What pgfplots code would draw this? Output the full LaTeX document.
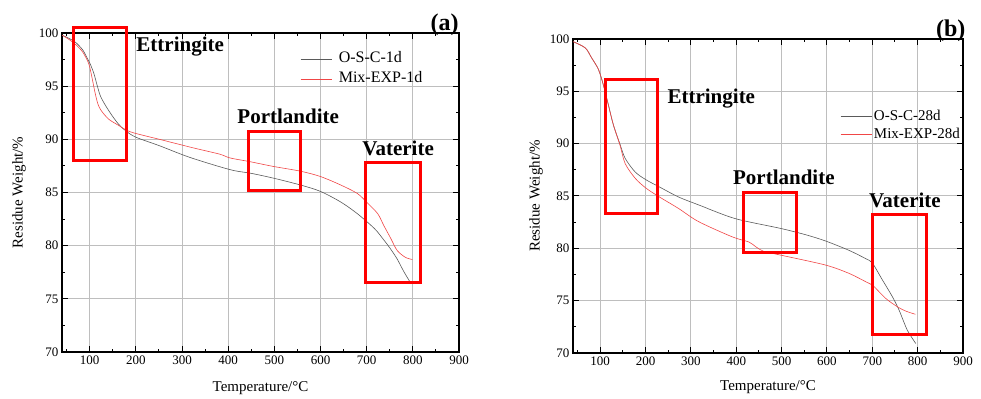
\documentclass[border=0pt]{standalone}
\usepackage{fontspec}
\setmainfont{Liberation Serif}
\usepackage{pgfplots}
\pgfplotsset{compat=1.18}
\definecolor{mixred}{RGB}{240,70,70}
\definecolor{oscgray}{RGB}{90,90,90}
\definecolor{gridgray}{RGB}{190,190,190}
\tikzset{
  lab/.style={font=\fontsize{21}{24}\bfseries\selectfont, anchor=base, inner sep=0pt},
  pan/.style={font=\fontsize{24}{28}\bfseries\selectfont, anchor=base, inner sep=0pt},
  box/.style={draw=red, line width=3pt},
  tk/.style={draw=black, line width=1pt},
  gl/.style={draw=gridgray, line width=1pt},
}
\newcommand{\tgagrid}{%
  \pgfplotsinvokeforeach{100,200,...,800}{\draw[gl] (axis cs:##1,70) -- (axis cs:##1,100);}%
  \pgfplotsinvokeforeach{75,80,...,95}{\draw[gl] (axis cs:40,##1) -- (axis cs:900,##1);}%
}
\newcommand{\tgaticks}{%
  \pgfplotsinvokeforeach{100,200,...,800}{\draw[tk] (axis cs:##1,70) -- ++(0pt,6pt); \draw[tk] (axis cs:##1,100) -- ++(0pt,-6pt);}%
  \pgfplotsinvokeforeach{50,150,...,850}{\draw[tk] (axis cs:##1,70) -- ++(0pt,3pt); \draw[tk] (axis cs:##1,100) -- ++(0pt,-3pt);}%
  \pgfplotsinvokeforeach{75,80,...,95}{\draw[tk] (axis cs:40,##1) -- ++(6pt,0pt); \draw[tk] (axis cs:900,##1) -- ++(-6pt,0pt);}%
  \pgfplotsinvokeforeach{72.5,77.5,82.5,87.5,92.5,97.5}{\draw[tk] (axis cs:40,##1) -- ++(3pt,0pt); \draw[tk] (axis cs:900,##1) -- ++(-3pt,0pt);}%
}
\pgfplotsset{
  tgastyle/.style={
    scale only axis,
    anchor=south west,
    xmin=40, xmax=900, ymin=70, ymax=100,
    xtick={100,200,300,400,500,600,700,800,900},
    ytick={70,75,80,85,90,95,100},
    tick align=inside,
    major tick length=0pt,
    axis line style={line width=1.2pt},
    /pgf/number format/assume math mode=true,
    tick label style={font=\fontsize{13}{15}\selectfont},
    label style={font=\fontsize{15}{17}\selectfont},
    xlabel={Temperature/°C},
    ylabel={Residue Weight/\%},
    legend cell align=left,
  },
}
\begin{document}
\begin{tikzpicture}
\path (0,0) rectangle (981pt,396pt);
% ---------------- panel (a)
\begin{axis}[tgastyle,
  at={(62pt,44pt)}, width=397pt, height=319pt,
  xlabel style={at={(axis description cs:0.5,-0.125)}, anchor=base},
  ylabel style={at={(axis description cs:-0.108,0.5)}, anchor=center},
  legend image code/.code={\draw[#1] (0pt,0pt) -- (31pt,0pt); \path (36pt,0pt);},
  legend style={at={(0.5995,0.951)}, anchor=north west, draw=none, fill=none,
    inner sep=0pt,
    font=\fontsize{16}{18}\selectfont,
    nodes={inner sep=2pt, text height=12pt, text depth=4pt}},
]
\tgagrid
\addplot[draw=oscgray, line width=0.6pt, smooth] coordinates {
(40,99.8) (55,99.5) (70,99.1) (85,98.4) (95,97.6) (101,97.1) (109,96.2)
(116,95.1) (123,94.1) (134,93.2) (149,92.2) (163,91.4) (178,90.8) (200,90.2)
(251,89.4) (317,88.3) (404,87.15) (450,86.8) (498,86.35) (557,85.7) (600,85.1)
(644,84.1) (680,83.0) (717,81.6) (736,80.6) (750,79.8) (766,78.75) (780,77.6) (795,76.5)
};
\addlegendentry{O-S-C-1d}
\addplot[draw=mixred, line width=0.6pt, smooth] coordinates {
(40,99.8) (55,99.4) (70,98.9) (85,98.2) (98,97.1) (105,95.8) (112,94.3)
(118,93.3) (125,92.7) (141,91.9) (163,91.3) (180,90.85) (200,90.55) (251,90.0)
(324,89.2) (382,88.6) (404,88.25) (447,87.9) (498,87.45) (557,87.0) (600,86.5)
(644,85.7) (680,84.9) (702,84.0) (724,83.0) (737,81.9) (752,80.7) (766,79.55)
(784,78.9) (799,78.7)
};
\addlegendentry{Mix-EXP-1d}
\tgaticks
\coordinate (a1) at (axis cs:65,88.0);   \coordinate (a2) at (axis cs:179.5,100.5);
\coordinate (a3) at (axis cs:443,85.2);  \coordinate (a4) at (axis cs:557,90.77);
\coordinate (a5) at (axis cs:697,76.5);  \coordinate (a6) at (axis cs:815.7,87.85);
\coordinate (aL1) at (axis cs:296,98.23);
\coordinate (aL2) at (axis cs:530,91.48);
\coordinate (aL3) at (axis cs:768,88.5);
\coordinate (aP) at (axis cs:869,100.2);
\end{axis}
\draw[box] (a1) rectangle (a2);
\draw[box] (a3) rectangle (a4);
\draw[box] (a5) rectangle (a6);
\node[lab] at (aL1) {Ettringite};
\node[lab] at (aL2) {Portlandite};
\node[lab] at (aL3) {Vaterite};
\node[pan] at (aP) {(a)};
% ---------------- panel (b)
\begin{axis}[tgastyle,
  at={(573pt,43pt)}, width=390pt, height=314pt,
  xlabel style={at={(axis description cs:0.5,-0.121)}, anchor=base},
  ylabel style={at={(axis description cs:-0.095,0.5)}, anchor=center},
  legend image code/.code={\draw[#1] (0pt,0pt) -- (31pt,0pt);},
  legend style={at={(0.685,0.783)}, anchor=north west, draw=none, fill=none,
    inner sep=0pt,
    font=\fontsize{15}{17}\selectfont,
    nodes={inner sep=2pt, text height=11pt, text depth=3pt}},
]
\tgagrid
\addplot[draw=oscgray, line width=0.6pt, smooth] coordinates {
(40,99.75) (67,99.15) (81,98.2) (96,97.1) (107,95.6) (118,93.7) (129,91.8)
(144,89.9) (155,88.6) (177,87.3) (201,86.55) (229,85.9) (273,84.9) (317,84.15)
(397,82.85) (498,81.9) (553,81.3) (597,80.7) (649,79.8) (686,79.0) (700,78.6)
(722,77.0) (744,75.4) (759,74.1) (777,72.2) (796,70.9)
};
\addlegendentry{O-S-C-28d}
\addplot[draw=mixred, line width=0.6pt, smooth] coordinates {
(40,99.75) (67,99.15) (81,98.2) (96,97.1) (107,95.6) (118,93.7) (129,91.8)
(144,89.8) (155,88.1) (177,86.7) (201,85.75) (229,84.95) (273,83.8) (317,82.55)
(391,81.1) (428,80.6) (443,80.15) (461,79.7) (498,79.35) (597,78.4) (649,77.6)
(686,76.8) (700,76.5) (730,75.2) (756,74.4) (774,74.0) (795,73.7)
};
\addlegendentry{Mix-EXP-28d}
\tgaticks
\coordinate (b1) at (axis cs:111,83.35); \coordinate (b2) at (axis cs:226,96.1);
\coordinate (b3) at (axis cs:417,79.6);  \coordinate (b4) at (axis cs:533,85.3);
\coordinate (b5) at (axis cs:700,71.8);  \coordinate (b6) at (axis cs:820,83.25);
\coordinate (bL1) at (axis cs:345,93.8);
\coordinate (bL2) at (axis cs:505,86.06);
\coordinate (bL3) at (axis cs:772,83.9);
\coordinate (bP) at (axis cs:873,100.2);
\end{axis}
\draw[box] (b1) rectangle (b2);
\draw[box] (b3) rectangle (b4);
\draw[box] (b5) rectangle (b6);
\node[lab] at (bL1) {Ettringite};
\node[lab] at (bL2) {Portlandite};
\node[lab] at (bL3) {Vaterite};
\node[pan] at (bP) {(b)};
\end{tikzpicture}
\end{document}
